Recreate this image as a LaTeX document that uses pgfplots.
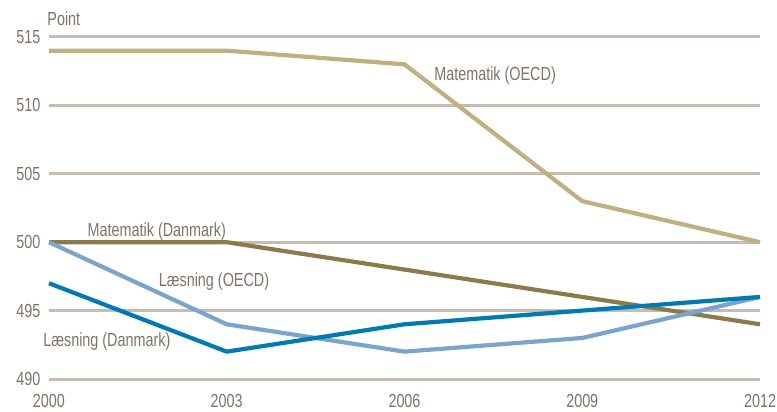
\documentclass[border=0pt]{standalone}
\usepackage{pgfplots}
\pgfplotsset{compat=1.18}
\usepackage{fontspec}
\setmainfont{Liberation Sans}[FakeStretch=0.76]
\definecolor{txt}{RGB}{128,114,104}
\definecolor{gridc}{RGB}{200,188,178}
\definecolor{matoecd}{RGB}{190,176,128}
\definecolor{matdk}{RGB}{140,122,76}
\definecolor{laesoecd}{RGB}{122,164,204}
\definecolor{laesdk}{RGB}{0,122,178}
\tikzset{lbl/.style={anchor=west, font=\fontsize{19}{21}\selectfont, text=txt, inner sep=0pt}}
\begin{document}
\begin{tikzpicture}
\begin{axis}[
    name=ax,
    scale only axis,
    width=711bp, height=342bp,
    xmin=2000, xmax=2012,
    ymin=490, ymax=515,
    xtick={2000,2003,2006,2009,2012},
    ytick={490,495,...,515},
    axis line style={draw=none},
    tick style={draw=none},
    ymajorgrids,
    grid style={gridc, line width=3bp},
    ticklabel style={font=\fontsize{19}{21}\selectfont, text=txt},
    /pgf/number format/assume math mode=true,
    xticklabel style={/pgf/number format/1000 sep={}, yshift=-12bp},
    yticklabel style={xshift=-5bp},
    clip=false,
    every axis plot/.append style={line width=4.2bp, line join=round},
]
\addplot[matoecd] coordinates {(2000,514) (2003,514) (2006,513) (2009,503) (2012,500)};
\addplot[matdk] coordinates {(2000,500) (2003,500) (2006,498) (2009,496) (2012,494)};
\addplot[laesoecd] coordinates {(2000,500) (2003,494) (2006,492) (2009,493) (2012,496)};
\addplot[laesdk] coordinates {(2000,497) (2003,492) (2006,494) (2009,495) (2012,496)};

\node[lbl] at (axis cs:2006.5,512.2) {Matematik (OECD)};
\node[lbl] at (axis cs:2000.65,500.75) {Matematik (Danmark)};
\node[lbl] at (axis cs:2001.85,497.1) {Læsning (OECD)};
\node[lbl] at (axis cs:1999.9,492.7) {Læsning (Danmark)};
\node[lbl] at (axis cs:1999.97,516.3) {Point};
\end{axis}
\pgfresetboundingbox
\path[use as bounding box] ([shift={(-49bp,-33bp)}]ax.south west) rectangle ([shift={(17bp,37bp)}]ax.north east);
\end{tikzpicture}
\end{document}
